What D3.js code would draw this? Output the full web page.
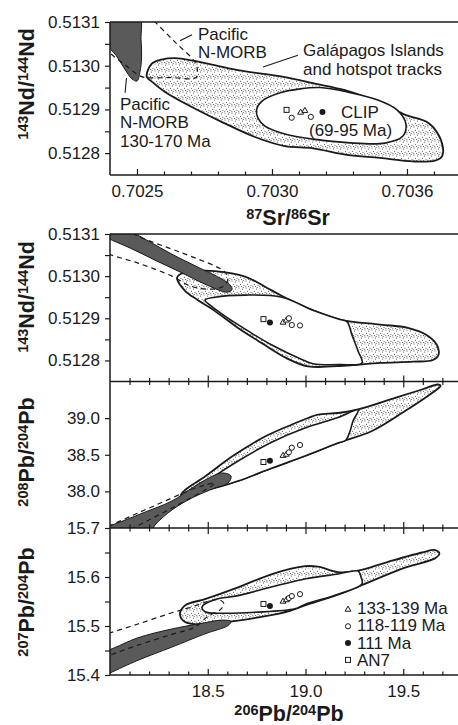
<!DOCTYPE html>
<html>
<head>
<meta charset="utf-8">
<script src="https://cdn.jsdelivr.net/npm/d3@7"></script>
<style>
  body { margin: 0; background: #fff; }
  text { font-family: "Liberation Sans", Arial, sans-serif; fill: #1a1a1a; }
</style>
</head>
<body>
<svg id="chart" width="458" height="725"></svg>
<script>
// ---------- tick values / labels ----------
const srMajor = [0.7025, 0.7030, 0.7035];
const srLabels = ["0.7025", "0.7030", "0.7036"];
const srMinor = [0.7026, 0.7027, 0.7028, 0.7029, 0.7031, 0.7032, 0.7033, 0.7034, 0.7036];
const ndMajor = [0.5128, 0.5129, 0.5130, 0.5131];
const ndMinor = [0.51285, 0.51295, 0.51305];
const pb206Major = [18.5, 19.0, 19.5];
const pb206Minor = [18.1, 18.2, 18.3, 18.4, 18.6, 18.7, 18.8, 18.9, 19.1, 19.2, 19.3, 19.4, 19.6, 19.7];
const pb208Major = [38.0, 38.5, 39.0];
const pb207Major = [15.4, 15.5, 15.6, 15.7];
const pb207Minor = [15.45, 15.55, 15.65];

// ---------- Sr-Nd panel fields ----------
const srNdGalapagos = [[0.702536,0.512975],[0.702554,0.513004],[0.702591,0.513014],[0.702652,0.513017],[0.702752,0.513006],[0.702874,0.512990],[0.703048,0.512974],[0.703152,0.512960],[0.703270,0.512944],[0.703400,0.512915],[0.703496,0.512887],[0.703574,0.512871],[0.703611,0.512848],[0.703633,0.512814],[0.703630,0.512793],[0.703604,0.512783],[0.703522,0.512781],[0.703400,0.512789],[0.703278,0.512796],[0.703152,0.512811],[0.703048,0.512816],[0.702937,0.512837],[0.702815,0.512871],[0.702689,0.512910],[0.702604,0.512940],[0.702556,0.512963]];
const srNdClip = [[0.702943,0.512899],[0.702963,0.512919],[0.703030,0.512938],[0.703104,0.512947],[0.703178,0.512950],[0.703278,0.512940],[0.703389,0.512922],[0.703463,0.512899],[0.703496,0.512867],[0.703485,0.512839],[0.703419,0.512823],[0.703278,0.512824],[0.703152,0.512832],[0.703048,0.512844],[0.702974,0.512862],[0.702948,0.512880]];
const srNdOldMorb = [[0.702393,0.513116],[0.702507,0.513116],[0.702515,0.513059],[0.702517,0.513018],[0.702511,0.512986],[0.702500,0.512965],[0.702481,0.512970],[0.702452,0.512995],[0.702422,0.513024],[0.702393,0.513047]];
const srNdMorb = [[0.702363,0.513059],[0.702400,0.513029],[0.702452,0.513004],[0.702504,0.512979],[0.702530,0.512973],[0.702622,0.512973],[0.702719,0.512973],[0.702724,0.512988],[0.702715,0.513008],[0.702641,0.513054],[0.702567,0.513100],[0.702530,0.513123]];

// Sr-Nd samples
const srGroup = ["AN7", "118-119 Ma", "133-139 Ma", "133-139 Ma", "118-119 Ma", "111 Ma"];
const srValues = [0.703054, 0.703073, 0.703106, 0.703122, 0.703144, 0.703187];
const srNdValues = [0.512899, 0.512881, 0.512893, 0.512897, 0.512883, 0.512894];

// ---------- Pb panels fields ----------
const ndGalapagos = [[18.343,0.512996],[18.368,0.513007],[18.435,0.513012],[18.537,0.513012],[18.691,0.512999],[18.793,0.512975],[18.880,0.512953],[19.038,0.512919],[19.176,0.512897],[19.381,0.512885],[19.519,0.512878],[19.621,0.512860],[19.673,0.512836],[19.680,0.512813],[19.652,0.512801],[19.550,0.512797],[19.381,0.512794],[19.212,0.512788],[19.013,0.512786],[18.905,0.512805],[18.777,0.512841],[18.655,0.512877],[18.537,0.512917],[18.450,0.512943],[18.384,0.512965]];
const ndClip = [[18.486,0.512943],[18.537,0.512950],[18.691,0.512955],[18.880,0.512950],[19.038,0.512919],[19.176,0.512897],[19.212,0.512892],[19.238,0.512860],[19.269,0.512822],[19.289,0.512794],[19.176,0.512790],[19.038,0.512792],[18.987,0.512801],[18.818,0.512839],[18.706,0.512870],[18.588,0.512905],[18.512,0.512931]];
const ndOldMorb = [[17.974,0.513119],[18.118,0.513102],[18.205,0.513081],[18.317,0.513052],[18.460,0.513019],[18.573,0.512993],[18.614,0.512979],[18.624,0.512968],[18.598,0.512962],[18.486,0.512981],[18.358,0.513010],[18.230,0.513038],[18.102,0.513067],[17.990,0.513090],[17.949,0.513102]];
const ndMorb = [[18.077,0.513114],[18.143,0.513095],[18.358,0.513057],[18.537,0.513024],[18.583,0.513012],[18.604,0.512996],[18.583,0.512977],[18.512,0.512969],[18.409,0.512977],[18.317,0.513000],[18.143,0.513031],[18.000,0.513051],[17.949,0.513060]];

const pb208Galapagos = [[18.363,37.950],[18.384,38.019],[18.486,38.203],[18.624,38.476],[18.793,38.749],[18.931,38.913],[19.013,39.002],[19.064,39.049],[19.166,39.070],[19.269,39.118],[19.458,39.275],[19.596,39.391],[19.678,39.459],[19.691,39.439],[19.678,39.404],[19.611,39.275],[19.509,39.097],[19.340,38.824],[19.166,38.660],[18.997,38.483],[18.829,38.319],[18.655,38.142],[18.486,38.019],[18.409,37.950],[18.373,37.923]];
const pb208Clip = [[18.435,38.060],[18.486,38.128],[18.655,38.415],[18.829,38.674],[18.997,38.865],[19.166,39.009],[19.269,39.111],[19.243,38.961],[19.228,38.824],[19.207,38.701],[19.166,38.660],[18.997,38.483],[18.829,38.319],[18.655,38.142],[18.537,38.046],[18.460,38.019]];
const pb208OldMorb = [[17.949,37.445],[18.143,37.678],[18.317,37.869],[18.419,38.046],[18.486,38.155],[18.573,38.251],[18.619,38.210],[18.604,38.114],[18.537,38.046],[18.419,37.910],[18.317,37.746],[18.230,37.541],[18.205,37.432]];
const pb208Morb = [[17.949,37.473],[18.143,37.705],[18.317,37.910],[18.409,38.019],[18.486,38.087],[18.537,38.114],[18.486,38.019],[18.317,37.773],[18.179,37.582],[18.077,37.445]];

const pb207Galapagos = [[18.358,15.524],[18.384,15.542],[18.486,15.555],[18.655,15.579],[18.829,15.606],[18.997,15.622],[19.064,15.621],[19.166,15.610],[19.269,15.613],[19.422,15.631],[19.596,15.650],[19.662,15.655],[19.685,15.648],[19.662,15.638],[19.509,15.619],[19.304,15.586],[19.166,15.564],[18.997,15.542],[18.921,15.531],[18.767,15.518],[18.614,15.509],[18.460,15.503],[18.384,15.508]];
const pb207Clip = [[18.471,15.539],[18.537,15.554],[18.655,15.562],[18.829,15.580],[18.997,15.596],[19.166,15.606],[19.269,15.612],[19.284,15.600],[19.289,15.586],[19.166,15.565],[18.997,15.544],[18.946,15.535],[18.742,15.528],[18.573,15.526],[18.486,15.529]];
const pb207OldMorb = [[17.949,15.447],[18.000,15.452],[18.143,15.476],[18.317,15.494],[18.450,15.504],[18.573,15.512],[18.619,15.509],[18.604,15.501],[18.486,15.484],[18.317,15.457],[18.143,15.430],[18.000,15.404],[17.949,15.394]];
const pb207Morb = [[17.949,15.480],[18.000,15.486],[18.143,15.504],[18.317,15.527],[18.419,15.539],[18.501,15.550],[18.563,15.553],[18.583,15.545],[18.563,15.533],[18.501,15.520],[18.435,15.498],[18.317,15.483],[18.143,15.461],[18.000,15.441],[17.949,15.435]];

// Pb samples
const pbGroup = ["AN7", "111 Ma", "133-139 Ma", "133-139 Ma", "118-119 Ma", "118-119 Ma", "118-119 Ma"];
const pb206Values = [18.785, 18.818, 18.885, 18.902, 18.915, 18.930, 18.972];
const pbNdValues = [0.512898, 0.512890, 0.512890, 0.512895, 0.512900, 0.512884, 0.512883];
const pb208Values = [38.401, 38.419, 38.487, 38.503, 38.533, 38.596, 38.633];
const pb207Values = [15.545, 15.541, 15.550, 15.553, 15.557, 15.561, 15.565];

const legendItems = ["133-139 Ma", "118-119 Ma", "111 Ma", "AN7"];

// ---------- setup ----------
const svg = d3.select("#chart");
const INK = "#1a1a1a";

const defs = svg.append("defs");
const pat = defs.append("pattern").attr("id", "stipple")
    .attr("width", 7).attr("height", 7).attr("patternUnits", "userSpaceOnUse");
pat.append("rect").attr("width", 7).attr("height", 7).attr("fill", "#fff");
[[1, 1], [4.5, 2], [2.5, 4.2], [6, 5.3], [0.8, 6.2], [5.2, 0.2], [3.6, 6.6]].forEach(p => {
    pat.append("circle").attr("cx", p[0]).attr("cy", p[1]).attr("r", 0.55).attr("fill", "#444");
});

// scales
const xSr = d3.scaleLinear().domain([0.7024, 0.703689]).range([110, 458]);
const ySrNd = d3.scaleLinear().domain([0.51275, 0.5131]).range([175, 22]);
const xPb = d3.scaleLinear().domain([18.0, 19.78]).range([110, 458]);
const yNd = d3.scaleLinear().domain([0.51275, 0.5131]).range([381.5, 234]);
const y208 = d3.scaleLinear().domain([37.5, 39.5]).range([528, 381.5]);
const y207 = d3.scaleLinear().domain([15.4, 15.7]).range([675, 528]);

function panel(id, x, y) {
    defs.append("clipPath").attr("id", id).append("rect")
        .attr("x", x.range()[0]).attr("y", y.range()[1])
        .attr("width", x.range()[1] - x.range()[0])
        .attr("height", y.range()[0] - y.range()[1]);
    return svg.append("g").attr("clip-path", `url(#${id})`);
}

function drawFields(g, x, y, f) {
    const closed = d3.line().x(d => x(d[0])).y(d => y(d[1])).curve(d3.curveCatmullRomClosed.alpha(0.5));
    const open = d3.line().x(d => x(d[0])).y(d => y(d[1])).curve(d3.curveCatmullRom.alpha(0.5));
    g.append("path").attr("d", closed(f.gal)).attr("fill", "url(#stipple)")
        .attr("stroke", INK).attr("stroke-width", 1.8);
    g.append("path").attr("d", closed(f.clip)).attr("fill", "#fff")
        .attr("stroke", INK).attr("stroke-width", 1.6);
    g.append("path").attr("d", closed(f.dark)).attr("fill", "#5a5a5a")
        .attr("stroke", INK).attr("stroke-width", 1);
    g.append("path").attr("d", open(f.dash)).attr("fill", "none")
        .attr("stroke", INK).attr("stroke-width", 1.2).attr("stroke-dasharray", "5,4");
}

function marker(g, type, cx, cy) {
    if (type === "133-139 Ma") {
        g.append("path").attr("d", d3.symbol(d3.symbolTriangle, 15)())
            .attr("transform", `translate(${cx},${cy})`)
            .attr("fill", "#fff").attr("stroke", INK).attr("stroke-width", 1);
    } else if (type === "118-119 Ma") {
        g.append("circle").attr("cx", cx).attr("cy", cy).attr("r", 2.6)
            .attr("fill", "#fff").attr("stroke", INK).attr("stroke-width", 1);
    } else if (type === "111 Ma") {
        g.append("circle").attr("cx", cx).attr("cy", cy).attr("r", 3)
            .attr("fill", INK);
    } else {
        g.append("rect").attr("x", cx - 2.5).attr("y", cy - 2.5).attr("width", 5).attr("height", 5)
            .attr("fill", "#fff").attr("stroke", INK).attr("stroke-width", 1);
    }
}

function styleAxis(g) {
    g.select(".domain").remove();
    g.selectAll(".tick line").attr("stroke", INK).attr("stroke-width", 1.2);
    g.selectAll(".tick text").attr("font-size", 17).attr("fill", INK)
        .attr("font-family", '"Liberation Sans", Arial, sans-serif');
}

function yAxis(scale, major, minor, fmt) {
    svg.append("g").attr("transform", "translate(110,0)")
        .call(d3.axisLeft(scale).tickValues(major).tickSize(5).tickPadding(5).tickFormat(fmt))
        .call(styleAxis);
    if (minor) {
        svg.append("g").attr("transform", "translate(110,0)")
            .call(d3.axisLeft(scale).tickValues(minor).tickSize(5).tickFormat(""))
            .call(styleAxis);
    }
}

function xTicks(scale, yPos, dir, major, minor, fmt) {
    svg.append("g").attr("transform", `translate(0,${yPos})`)
        .call(d3.axisBottom(scale).tickValues(major).tickSize(dir * 6).tickPadding(10).tickFormat(fmt || ""))
        .call(styleAxis);
    svg.append("g").attr("transform", `translate(0,${yPos})`)
        .call(d3.axisBottom(scale).tickValues(minor).tickSize(dir * 3.5).tickFormat(""))
        .call(styleAxis);
}

function hline(x, yPos) {
    svg.append("line").attr("x1", x.range()[0]).attr("x2", x.range()[1])
        .attr("y1", yPos).attr("y2", yPos).attr("stroke", INK).attr("stroke-width", 1.5);
}
function vline(xPos, y1, y2) {
    svg.append("line").attr("x1", xPos).attr("x2", xPos)
        .attr("y1", y1).attr("y2", y2).attr("stroke", INK).attr("stroke-width", 1.5);
}

function title(str, sup1, sup2, tx, ty, rotate) {
    const t = svg.append("text").attr("font-weight", 700).attr("font-size", 21.5)
        .attr("text-anchor", "middle")
        .attr("transform", rotate ? `translate(${tx},${ty}) rotate(-90)` : `translate(${tx},${ty})`);
    t.append("tspan").attr("font-size", 14.5).attr("dy", -6).text(sup1);
    t.append("tspan").attr("dy", 6).text(str[0] + "/");
    t.append("tspan").attr("font-size", 14.5).attr("dy", -6).text(sup2);
    t.append("tspan").attr("dy", 6).text(str[1]);
}

// ---------- Sr-Nd panel ----------
const gTop = panel("clipTop", xSr, ySrNd);
drawFields(gTop, xSr, ySrNd, { gal: srNdGalapagos, clip: srNdClip, dark: srNdOldMorb, dash: srNdMorb });
srValues.forEach((v, i) => marker(gTop, srGroup[i], xSr(v), ySrNd(srNdValues[i])));

hline(xSr, ySrNd(0.5131));
hline(xSr, ySrNd(0.51275));
vline(110, ySrNd.range()[1], ySrNd.range()[0]);
yAxis(ySrNd, ndMajor, ndMinor, d3.format(".4f"));
xTicks(xSr, ySrNd.range()[0], -1, srMajor, srMinor, (d, i) => srLabels[i]);

// annotations
function label(lines, x0, ys, sx, sy) {
    lines.forEach((s, i) => svg.append("text").attr("x", sx(x0)).attr("y", sy(ys[i]))
        .attr("font-size", 17).text(s));
}
function leader(p, sx, sy) {
    svg.append("line").attr("x1", sx(p[0][0])).attr("y1", sy(p[0][1]))
        .attr("x2", sx(p[1][0])).attr("y2", sy(p[1][1]))
        .attr("stroke", INK).attr("stroke-width", 1.1);
}
label(["Pacific", "N-MORB"], 0.702726, [0.513059, 0.513018], xSr, ySrNd);
leader([[0.702704, 0.513071], [0.702659, 0.513057]], xSr, ySrNd);
label(["Pacific", "N-MORB", "130-170 Ma"], 0.702437, [0.512899, 0.512857, 0.512815], xSr, ySrNd);
leader([[0.702461, 0.512972], [0.702456, 0.512938]], xSr, ySrNd);
label(["Galápagos Islands", "and hotspot tracks"], 0.703115, [0.513023, 0.512978], xSr, ySrNd);
leader([[0.703096, 0.513024], [0.702967, 0.512997]], xSr, ySrNd);
label(["CLIP"], 0.703256, [0.512880], xSr, ySrNd);
label(["(69-95 Ma)"], 0.703137, [0.512840], xSr, ySrNd);

title(["Sr", "Sr"], "87", "86", 288, 225, false);
title(["Nd", "Nd"], "143", "144", 34, 84, true);

// ---------- Pb panels ----------
const gNd = panel("clipNd", xPb, yNd);
drawFields(gNd, xPb, yNd, { gal: ndGalapagos, clip: ndClip, dark: ndOldMorb, dash: ndMorb });
pb206Values.forEach((v, i) => marker(gNd, pbGroup[i], xPb(v), yNd(pbNdValues[i])));

const g208 = panel("clip208", xPb, y208);
drawFields(g208, xPb, y208, { gal: pb208Galapagos, clip: pb208Clip, dark: pb208OldMorb, dash: pb208Morb });
pb206Values.forEach((v, i) => marker(g208, pbGroup[i], xPb(v), y208(pb208Values[i])));

const g207 = panel("clip207", xPb, y207);
drawFields(g207, xPb, y207, { gal: pb207Galapagos, clip: pb207Clip, dark: pb207OldMorb, dash: pb207Morb });
pb206Values.forEach((v, i) => marker(g207, pbGroup[i], xPb(v), y207(pb207Values[i])));

hline(xPb, yNd.range()[1]);
hline(xPb, yNd.range()[0]);
hline(xPb, y208.range()[0]);
hline(xPb, y207.range()[0]);
vline(110, yNd.range()[1], y207.range()[0]);

yAxis(yNd, ndMajor, ndMinor, d3.format(".4f"));
yAxis(y208, pb208Major, null, d3.format(".1f"));
yAxis(y207, pb207Major, pb207Minor, d3.format(".1f"));

xTicks(xPb, yNd.range()[0], -1, pb206Major, pb206Minor);
xTicks(xPb, y208.range()[1], 1, pb206Major, pb206Minor);
xTicks(xPb, y208.range()[0], -1, pb206Major, pb206Minor);
xTicks(xPb, y207.range()[1], 1, pb206Major, pb206Minor);
xTicks(xPb, y207.range()[0], -1, pb206Major, pb206Minor, d3.format(".1f"));

title(["Nd", "Nd"], "143", "144", 34, 297, true);
title(["Pb", "Pb"], "208", "204", 34, 452, true);
title(["Pb", "Pb"], "207", "204", 34, 602, true);
title(["Pb", "Pb"], "206", "204", 289, 721, false);

// legend
const leg = svg.append("g").attr("transform", "translate(348,609.5)");
legendItems.forEach((s, i) => {
    marker(leg, s, 0, i * 16.8);
    leg.append("text").attr("x", 9).attr("y", i * 17.4 + 4.2).attr("font-size", 17).text(s);
});
</script>
</body>
</html>
